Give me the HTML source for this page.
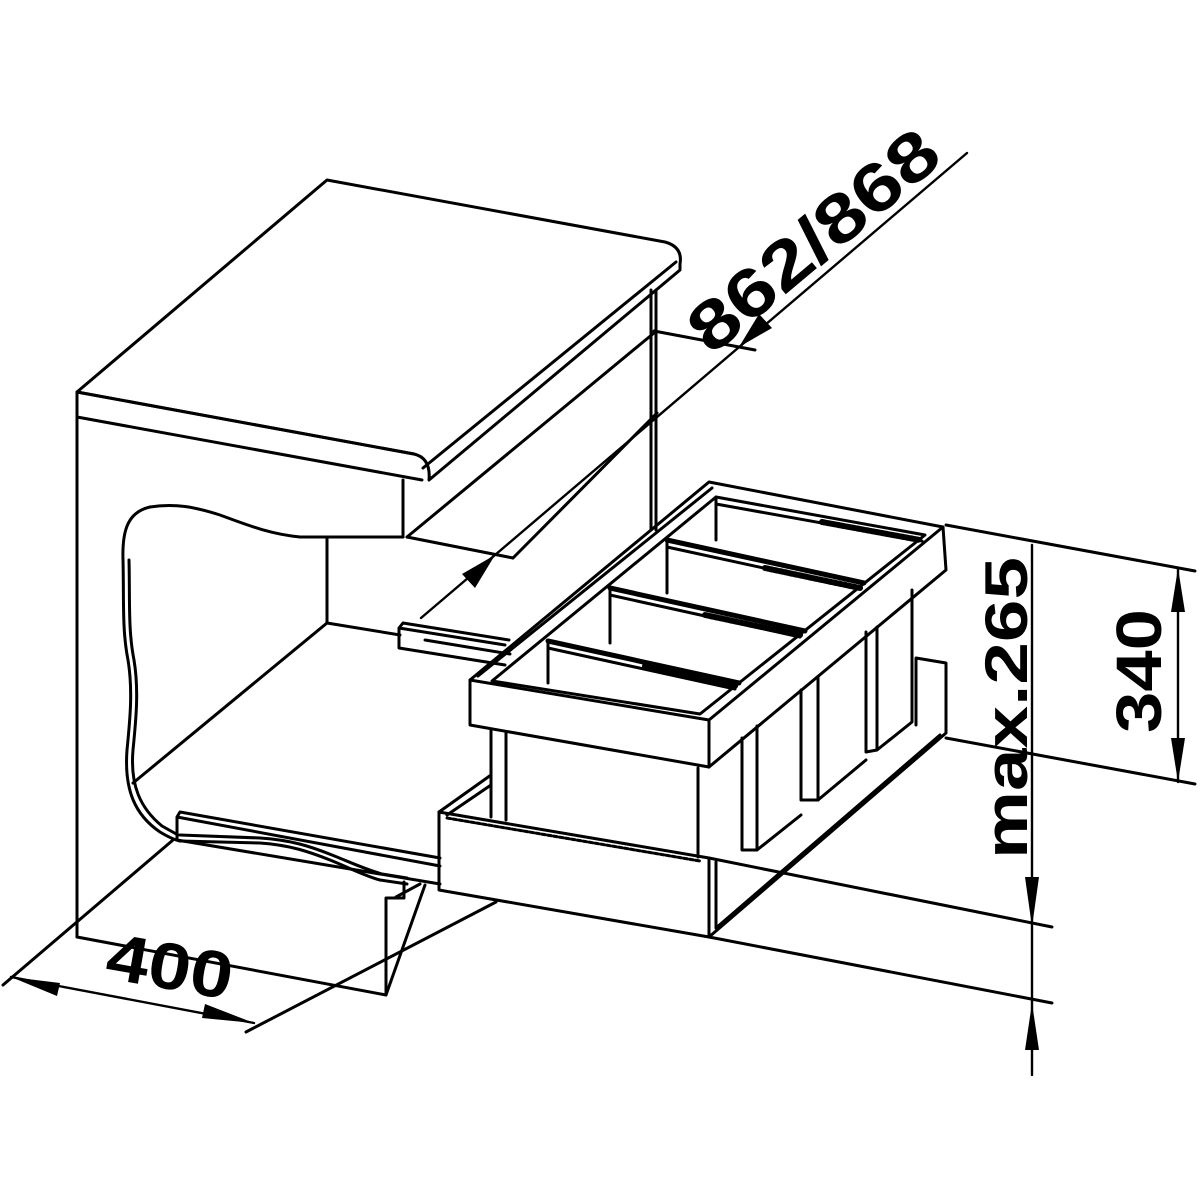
<!DOCTYPE html>
<html><head><meta charset="utf-8"><style>html,body{margin:0;padding:0;background:#fff}svg{display:block}</style></head>
<body>
<svg width="1200" height="1200" viewBox="0 0 1200 1200" xmlns="http://www.w3.org/2000/svg">
<rect width="1200" height="1200" fill="#fff"/>
<g fill="none" stroke="#000" stroke-width="3" stroke-linejoin="round" stroke-linecap="round">
<!-- countertop -->
<path d="M77,392 L327,180 L665,242 Q683,247 680,264 L680,270 L429,480 Q431,458 414,454 Z"/>
<path d="M77,392 L414,454"/>
<path d="M77,392 L77,937"/>
<path d="M77,417 L422,480"/>
<path d="M423,468 L676,262"/>
<!-- cabinet -->
<path d="M403,480 L403,537"/>
<path d="M651,290 L651,530 M656,290 L656,530"/>
<path d="M407,537 L654,333"/>
<path d="M654,331 L755,350"/>
<path d="M513,558 L657,413"/>
<path d="M407,537 L513,558"/>
<!-- wave opening -->
<path d="M403,537 L300,537 C270,534 250,526 220,515 C195,507 175,503 150,507 C128,512 122,530 123,560 C124,600 122,630 128,660 C133,690 130,720 127,750 C124,790 135,815 160,832 C170,838 175,840 180,841"/>
<path d="M129,560 C130,600 128,630 134,660 C139,690 136,720 133,750 C130,785 140,808 162,826 L178,835"/>
<path d="M180,841 L260,843 C290,845 310,852 330,860 C350,868 365,876 380,880 L407,884"/>
<path d="M180,835 L260,838 C292,840 312,847 332,855 C352,863 367,870 382,874 L407,878"/>
<path d="M327,537 L327,623"/>
<path d="M327,623 L133,783"/>
<path d="M327,623 L400,635"/>
<path d="M173,840 L3,985"/>
<!-- upper rail -->
<path d="M399,628 L403,623 L509,640 M399,628 L505,645 M399,628 L399,648 L505,665"/>
<path d="M425,640 L510,654"/>
<!-- lower rail -->
<path d="M177,817 L180,812 L440,858 M177,817 L440,866 M177,817 L177,840 L440,884"/>
<!-- cabinet bottom -->
<path d="M77,937 L386,995 L386,898 L404,898 L404,882"/>
<path d="M386,995 L425,885"/>
<path d="M396,897 L420,884"/>
<!-- basket frame -->
<path d="M470,680 L709,482 L943,527 L709,720 Z"/>
<path d="M470,680 L470,725 L709,767 L709,720"/>
<path d="M709,767 L946,570 L943,527"/>
<path d="M492,681 L716,497 L925,535 L700,714 Z"/>
<path d="M478,676 L712,488"/>
<path d="M716,497 L716,540 M667,540 L667,593 M610,588 L610,643 M548,641 L548,683"/>
<!-- dividers -->
<path d="M548,641 L739,683 M610,588 L805,631 M667,540 L864,583" stroke-width="5"/>
<path d="M548,648 L735,689 M610,595 L800,637 M667,547 L860,589 M716,504 L922,541"/>
<path d="M645,666 L735,686 M705,615 L800,635 M765,568 L860,588 M822,522 L920,540" stroke-width="6" stroke-dasharray="3 2"/>
<!-- bins -->
<path d="M491,730 L491,817 M506,733 L506,820"/>
<path d="M698,768 L698,857"/>
<path d="M742,738 L742,850 L757,850 L757,726"/>
<path d="M757,850 L801,815"/>
<path d="M801,690 L801,800 L818,800 L818,677"/>
<path d="M818,800 L866,760"/>
<path d="M866,632 L866,752 L877,750 L877,627"/>
<path d="M877,750 L912,722 L912,590"/>
<!-- tray -->
<path d="M439,812 L709,858 L709,937 L439,890 Z"/>
<path d="M447,818 L700,861" stroke-dasharray="4 2"/>
<path d="M439,812 L491,775 M447,815 L491,785"/>
<path d="M709,937 L946,733 L946,663 L916,658 L916,725"/>
<path d="M716,928 L716,862 M716,928 L940,735"/>
<!-- extension lines -->
<path d="M709,858 L1052,927"/>
<path d="M709,937 L1052,1003"/>
<path d="M946,525 L1195,571"/>
<path d="M946,738 L1195,784"/>
<path d="M246,1032 L496,902"/>
<!-- dimension lines -->
<path d="M421,618 L967,153" stroke-width="2.4"/>
<path d="M1032,545 L1032,1075" stroke-width="2.4"/>
<path d="M1178,568 L1178,782" stroke-width="2.4"/>
<path d="M11,977 L254,1023" stroke-width="2.4"/>
</g>
<g fill="#000">
<polygon points="495,555 462,574 475,588"/>
<polygon points="739,347 772,328 759,314"/>
<polygon points="1032,927 1025,877 1039,877"/>
<polygon points="1032,1003 1025,1050 1039,1050"/>
<polygon points="1178,568 1171,612 1185,612"/>
<polygon points="1178,782 1171,738 1185,738"/>
<polygon points="11,977 60,983 57,996"/>
<polygon points="254,1023 205,1004 202,1018"/>
</g>
<g font-family="Liberation Sans, Arial, sans-serif" font-weight="bold" fill="#000" text-anchor="middle">
<text x="0" y="0" font-size="68" textLength="305" lengthAdjust="spacingAndGlyphs" transform="translate(813,240) rotate(-40)" dy="24">862/868</text>
<text x="0" y="0" font-size="60" textLength="302" lengthAdjust="spacingAndGlyphs" transform="translate(1006,708) rotate(-90)" dy="21">max.265</text>
<text x="0" y="0" font-size="64" textLength="124" lengthAdjust="spacingAndGlyphs" transform="translate(1138,671) rotate(-90)" dy="23">340</text>
<text x="0" y="0" font-size="66" textLength="127" lengthAdjust="spacingAndGlyphs" transform="translate(170,966) rotate(10)" dy="23">400</text>
</g>
</svg>
</body></html>
